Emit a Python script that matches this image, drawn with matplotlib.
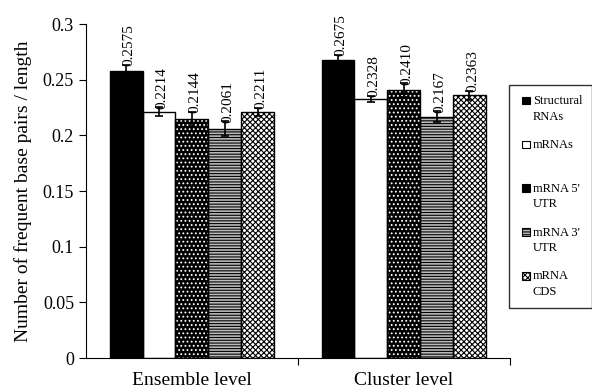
import matplotlib.pyplot as plt
from matplotlib.patches import Patch, Rectangle
from matplotlib.legend_handler import HandlerPatch
import numpy as np

plt.rcParams['font.family'] = ['Liberation Serif', 'DejaVu Serif']
plt.rcParams['hatch.linewidth'] = 0.8

groups = ['Ensemble level', 'Cluster level']
series = ['Structural\nRNAs', 'mRNAs\n ', "mRNA 5'\nUTR", "mRNA 3'\nUTR", 'mRNA\nCDS']
values = [
    [0.2575, 0.2675],
    [0.2214, 0.2328],
    [0.2144, 0.2410],
    [0.2061, 0.2167],
    [0.2211, 0.2363],
]
errors = [
    [0.006, 0.005],
    [0.004, 0.003],
    [0.007, 0.006],
    [0.007, 0.005],
    [0.004, 0.004],
]
labels = [
    ['0.2575', '0.2675'],
    ['0.2214', '0.2328'],
    ['0.2144', '0.2410'],
    ['0.2061', '0.2167'],
    ['0.2211', '0.2363'],
]

# fill, hatch colour, hatch
styles = [
    ('black', 'black', None),
    ('white', 'black', None),
    ('black', 'white', '....'),
    ('#bbbbbb', 'black', '------'),
    ('white', 'black', 'xxxxxx'),
]

fig = plt.figure(figsize=(5.92, 3.9), dpi=100)
ax = fig.add_axes([0.145, 0.082, 0.716, 0.856])

w = 0.155
centers = np.array([0.5, 1.5])
handles = []
for i, (vals, errs, labs) in enumerate(zip(values, errors, labels)):
    fc, hc, hatch = styles[i]
    x = centers + (i - 2) * w
    ax.bar(x, vals, w, color=fc, edgecolor=hc, hatch=hatch, linewidth=0, zorder=2)
    ax.bar(x, vals, w, fill=False, edgecolor='black', linewidth=1.0, zorder=3)
    ax.errorbar(x, vals, yerr=errs, fmt='none', ecolor='black', elinewidth=1.2,
                capsize=3, capthick=1.2, zorder=4)
    for xx, v, e, t in zip(x, vals, errs, labs):
        ax.text(xx + 0.014, v + e - 0.0015, t, rotation=90, ha='center', va='bottom',
                fontsize=11)
    handles.append(Patch(facecolor=fc, edgecolor='black', hatch=hatch, linewidth=0.8,
                         label=series[i]))


def small_box(legend, orig_handle, xdescent, ydescent, width, height, fontsize):
    # square at the right of the handle slot, level with the first text line
    s = 5.5
    return Rectangle((-xdescent + width - s, -ydescent + height / 2 - s / 2 + 6.0),
                     s, s)


ax.set_xlim(0, 2)
ax.set_ylim(0, 0.3)
ax.set_yticks([0, 0.05, 0.1, 0.15, 0.2, 0.25, 0.3])
ax.set_yticklabels(['0', '0.05', '0.1', '0.15', '0.2', '0.25', '0.3'], fontsize=13)
ax.set_xticks([1, 2])
ax.set_xticklabels(['', ''])
ax.set_xticks(centers, minor=True)
ax.set_xticklabels(groups, minor=True, fontsize=14)
ax.tick_params(axis='x', which='minor', length=0, pad=10)
ax.tick_params(axis='x', which='major', length=5, direction='out')
ax.tick_params(axis='y', length=5, direction='out')
ax.set_ylabel('Number of frequent base pairs / length', fontsize=14, labelpad=8)
ax.spines['top'].set_visible(False)
ax.spines['right'].set_visible(False)

leg = fig.legend(handles=handles, loc='upper left', bbox_to_anchor=(0.859, 0.782),
                 frameon=True, fancybox=False, edgecolor='black', fontsize=9,
                 handlelength=0.9, handleheight=0.7, handletextpad=0.25,
                 labelspacing=1.3, borderpad=0.8, borderaxespad=0,
                 handler_map={Patch: HandlerPatch(patch_func=small_box)})
leg.get_frame().set_linewidth(1.0)
for t in leg.get_texts():
    t.set_linespacing(1.4)

fig.savefig('out.png', dpi=100)
